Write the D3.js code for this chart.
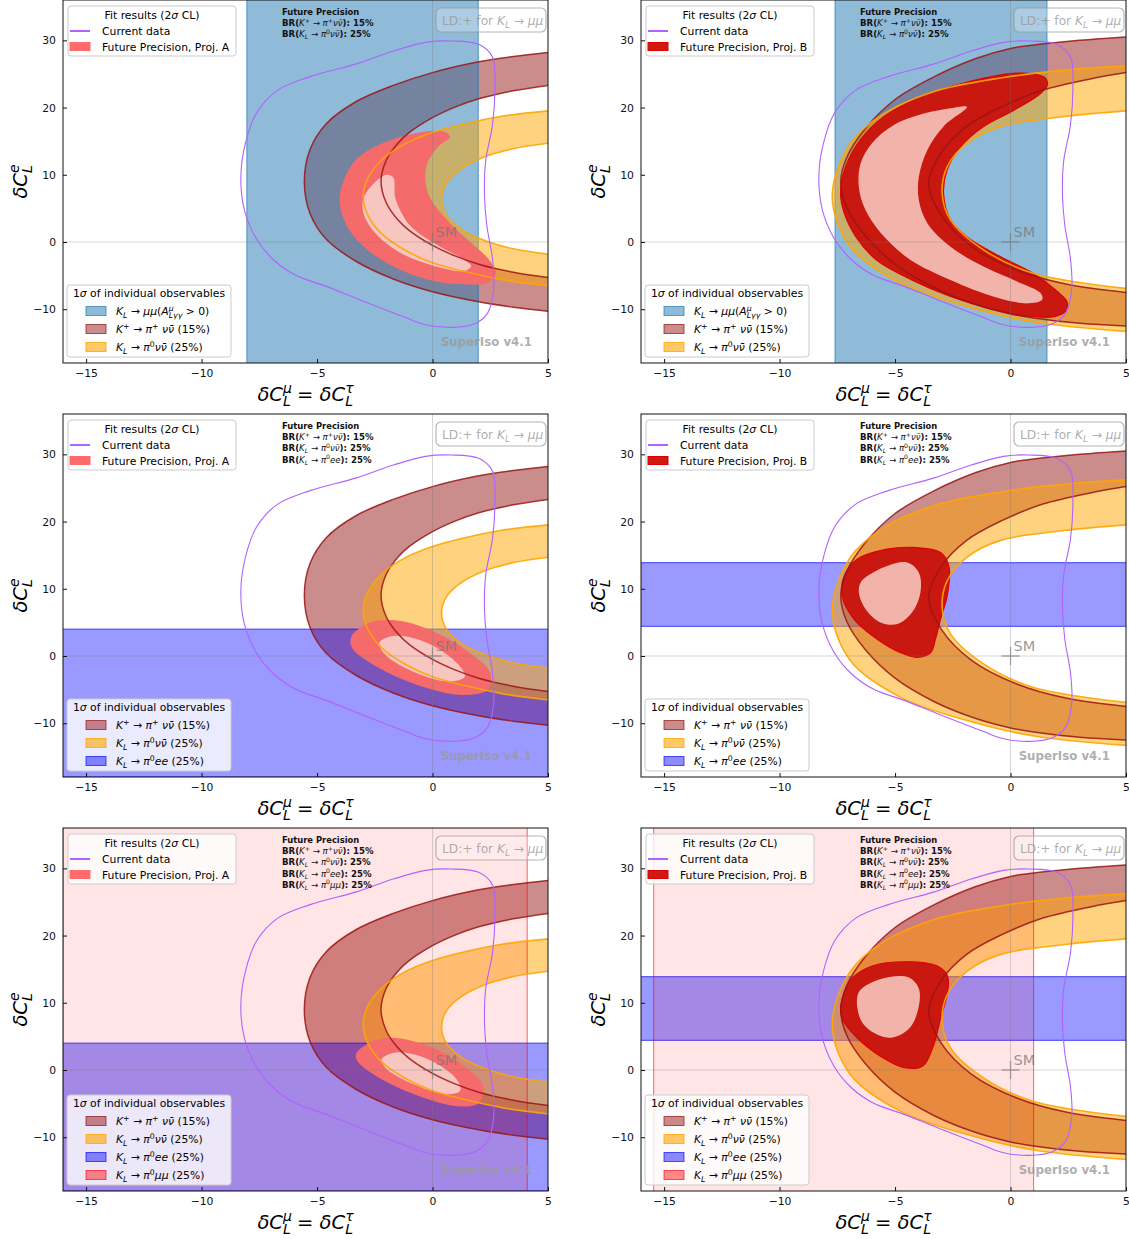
<!DOCTYPE html>
<html>
<head>
<meta charset="utf-8">
<script src="https://cdn.jsdelivr.net/npm/d3@7"></script>
<style>
  body { margin: 0; background: #fff; }
  svg { font-family: "DejaVu Sans", sans-serif; }
</style>
</head>
<body>
<script>
// ---- data (data coordinates: x = dC_L^mu = dC_L^tau, y = dC_L^e) ----

// current data, 2 sigma contour (same in every panel)
const currentData = [[0.8, 29.9], [2.0, 29.4], [2.6, 27.5], [2.7, 23], [2.6, 17.5], [2.3, 12], [2.25, 7],
  [2.35, 2.5], [2.6, -2.6], [2.65, -7], [2.4, -10.5], [1.8, -12.2], [0.8, -12.7], [-0.3, -12.3],
  [-1.2, -11.2], [-3.0, -8.8], [-4.6, -6.6], [-5.9, -5.0], [-6.9, -2.6], [-7.65, 0.6], [-8.15, 4.8],
  [-8.3, 9.7], [-8.1, 14.7], [-7.6, 19.3], [-6.7, 22.6], [-5.3, 24.6], [-3.3, 26.5], [-1.7, 28.4], [-0.3, 29.7]];

// K+ -> pi+ nu nubar band edges (projection A / B)
const kpOuterA = [[5, 28.2], [3.5, 27.6], [2, 26.8], [0, 25.2], [-1.7, 23.3], [-3.3, 20.9], [-4.6, 17.6],
  [-5.3, 13.8], [-5.55, 9.0], [-5.3, 4.2], [-4.6, 0.4], [-3.3, -2.9], [-1.7, -5.5], [0, -7.4], [2, -8.9], [3.5, -9.7], [5, -10.3]];
const kpInnerA = [[5, 23.3], [3.5, 22.5], [2, 21.3], [1, 20.1], [0, 18.5], [-1, 16.3], [-1.5, 14.7], [-2.0, 12.2],
  [-2.23, 9.0], [-2.0, 5.8], [-1.5, 3.3], [-1, 1.7], [0, -0.5], [1, -2.1], [2, -3.3], [3.5, -4.5], [5, -5.3]];
const kpOuterB = [[5, 30.5], [3, 30.0], [1, 29.3], [0, 28.8], [-1.5, 27.3], [-3.3, 24.6], [-5.0, 21.2], [-6.3, 16.8],
  [-7.1, 12.5], [-7.35, 9.0], [-7.1, 5.2], [-6.3, 1.0], [-5.0, -3.3], [-3.3, -6.8], [-1.5, -9.3], [0, -10.7],
  [1, -11.3], [3, -12.1], [5, -12.5]];
const kpInnerB = [[5, 25.2], [3.5, 24.3], [1.4, 22.6], [-0.4, 20.1], [-1.9, 17.2], [-3.0, 13.3], [-3.54, 8.8],
  [-3.0, 4.0], [-1.7, -0.6], [0.3, -4.2], [2.45, -6.3], [5, -7.5]];

// K_L -> pi0 nu nubar band edges
const klOuterA = [[5, 19.5], [3, 18.7], [1.4, 17.6], [0, 16.3], [-1.2, 14.6], [-2.2, 12.2], [-2.8, 9.5], [-3.0, 6.8],
  [-2.8, 4.0], [-2.2, 1.2], [-1.2, -1.2], [0, -3.1], [1.4, -4.4], [3, -5.6], [5, -6.55]];
const klInnerA = [[5, 14.7], [3.5, 13.9], [2.2, 12.6], [1.2, 10.8], [0.6, 8.8], [0.39, 6.4], [0.6, 4.0], [1.2, 2.0],
  [2.2, 0.3], [3.5, -1.0], [5, -1.8]];
const klOuterB = [[5, 26.2], [2.45, 25.6], [-0.43, 24.4], [-3.3, 22.4], [-5.48, 19.1], [-6.93, 14.7], [-7.72, 6.75],
  [-6.93, -0.7], [-4.76, -6.15], [-1.88, -9.6], [1.01, -11.9], [5, -13.3]];
const klInnerB = [[5, 19.5], [2.45, 18.7], [-0.43, 17.2], [-1.88, 14.7], [-2.74, 11.2], [-2.96, 7.2], [-2.6, 3.3],
  [-1.15, -1.2], [1.01, -4.7], [5, -6.9]];

// 1 sigma bands of the other observables: [low, high]
const klMuMuA = [-8.04, 1.98];     // vertical, K_L -> mu mu
const klMuMuB = [-7.6, 1.58];
const klEeA = [-18, 4.0];          // horizontal, K_L -> pi0 e e
const klEeB = [4.4, 13.9];
const klPiMuMuA = [-16, 4.1];      // vertical, K_L -> pi0 mu mu
const klPiMuMuB = [-15.45, 1.0];

// future precision fit regions (2 sigma, 1 sigma)
const projA2s = [[0.6, 16.3], [0.75, 15.6], [0.28, 14.3], [-0.26, 11.3], [-0.2, 7.3], [0.6, 3.4], [1.67, -0.1],
  [2.44, -2.6], [2.75, -4.6], [2.44, -6.0], [1.36, -6.3], [-0.2, -5.6], [-2.0, -3.1], [-3.3, 0.4], [-3.9, 3.9],
  [-4.0, 7.3], [-3.3, 12.3], [-1.7, 15.3], [0.0, 16.5]];
const projA1s = [[-2.0, 10.0], [-1.7, 9.6], [-1.6, 6.4], [-0.96, 2.4], [0.28, -0.6], [1.36, -2.6], [1.67, -3.6],
  [1.36, -4.3], [0.12, -3.6], [-1.4, -1.6], [-2.5, 1.4], [-3.0, 4.4], [-3.0, 6.4], [-2.66, 8.3]];
const projB2s = [[1.5, 24.4], [1.0, 25.0], [0.1, 25.1], [-1.15, 24.4], [-2.6, 23.1], [-4.0, 21.4], [-5.5, 18.6],
  [-6.5, 15.2], [-7.14, 11.2], [-7.36, 7.2], [-7.2, 4.3], [-6.7, 0.8], [-5.8, -2.7], [-4.3, -5.6], [-2.6, -8.1],
  [-0.9, -9.9], [0.7, -11.0], [1.9, -11.1], [2.4, -10.2], [2.45, -8.9], [2.0, -7.3], [1.0, -4.7], [-0.43, -2.2],
  [-1.9, 0.8], [-2.6, 3.3], [-2.9, 7.2], [-2.75, 10.7], [-2.15, 14.2], [-1.15, 17.2], [0.15, 19.6], [1.3, 22.1], [1.6, 23.4]];
const projB1s = [[-1.88, 20.1], [-2.9, 17.2], [-3.6, 13.7], [-3.97, 9.7], [-3.97, 6.25], [-3.6, 2.8], [-2.6, -0.7],
  [-1.15, -3.7], [0.3, -5.9], [1.3, -7.6], [1.37, -8.6], [0.72, -9.13], [-0.72, -8.13], [-2.6, -5.65], [-4.33, -2.68],
  [-5.48, 0.8], [-6.28, 4.76], [-6.57, 8.23], [-6.49, 11.7], [-6.0, 14.7], [-5.05, 17.4], [-3.75, 19.1], [-2.6, 19.9]];
const projAee2s = [[-3.5, 3.0], [-2.7, 5.0], [-1.6, 5.3], [-0.2, 4.0], [1.4, 1.0], [2.5, -2.5], [2.4, -5.0], [1.3, -5.8],
  [-0.9, -4.0], [-2.7, -1.0], [-3.5, 1.3]];
const projAee1s = [[-2.3, 2.0], [-1.6, 3.0], [-0.2, 1.9], [1.1, -1.2], [1.4, -3.1], [0.7, -3.8], [-1.0, -2.1], [-2.1, 0.4]];
const projAall2s = [[-3.28, 2.6], [-2.5, 4.4], [-1.73, 4.8], [-0.2, 3.6], [1.36, 0.6], [2.2, -2.4], [2.0, -4.9],
  [1.05, -5.4], [-0.96, -3.4], [-2.66, -0.4], [-3.28, 1.5]];
const projAall1s = [[-2.2, 1.6], [-1.58, 2.6], [-0.19, 1.6], [1.05, -1.4], [1.2, -3.1], [0.59, -3.6], [-0.96, -1.9], [-2.04, 0.35]];
const projBee2s = [[-6.64, 14.4], [-5.34, 15.9], [-4.19, 16.15], [-3.03, 15.4], [-2.67, 13.4], [-2.74, 8.96], [-3.03, 5.5],
  [-3.25, 2.5], [-3.46, 0.5], [-4.04, -0.2], [-4.76, 0.5], [-5.77, 2.5], [-6.78, 5.5], [-7.29, 8.96], [-7.2, 11.9]];
const projBee1s = [[-6.2, 11.9], [-5.34, 13.4], [-4.47, 13.9], [-3.97, 12.4], [-3.9, 9.5], [-4.26, 6.5], [-4.9, 4.75],
  [-5.63, 5.0], [-6.28, 7.0], [-6.57, 9.5], [-6.49, 10.95]];
const projBall2s = [[-7.35, 9.5], [-6.89, 13.5], [-5.96, 15.5], [-4.42, 16.1], [-3.19, 15.5], [-2.73, 14.0], [-2.73, 11.5],
  [-3.04, 7.55], [-3.34, 3.6], [-3.8, 0.6], [-4.58, 0.35], [-5.65, 2.1], [-6.73, 5.1], [-7.27, 7.55]];
const projBall1s = [[-6.58, 11.5], [-5.65, 13.5], [-4.42, 13.8], [-3.96, 12.0], [-4.04, 8.5], [-4.42, 6.06], [-5.19, 4.8],
  [-5.96, 5.6], [-6.5, 7.55]];

const xTicks = [-15, -10, -5, 0, 5];
const yTicks = [-10, 0, 10, 20, 30];
const precisionLines = ["kp", "klnn", "klee", "klmm"];   // order of the "Future Precision" notes

// ---- layout ----
const W = 1129, H = 1239;
const colX = [63, 641], rowY = [0, 414, 828];
const pw = 485, ph = 363;

const svg = d3.select("body").append("svg").attr("width", W).attr("height", H);
svg.append("rect").attr("width", W).attr("height", H).attr("fill", "#fff");

const x = d3.scaleLinear().domain([-16, 5]).range([0, pw]);
const y = d3.scaleLinear().domain([-18, 36]).range([ph, 0]);
const lineOpen = d3.line().x(d => x(d[0])).y(d => y(d[1])).curve(d3.curveCatmullRom.alpha(0.5));
const lineClosed = d3.line().x(d => x(d[0])).y(d => y(d[1])).curve(d3.curveCatmullRomClosed.alpha(0.5));

const C = {
  kp: "#8b0000", kl: "#ffa500", mumu: "#1f77b4", ee: "#0000ff", pimumu: "#ff0000",
  purple: "#b062ff",
  A2: "#f56a6a", A1: "#f7c6c1", B2: "#c9180f", B1: "#f2b4aa", Bedge: "#e00000"
};

// rich text: parts = [text, {it, sub, sup, stack, nb}]
function rich(sel, parts, size) {
  let cur = 0, prev = null;
  parts.forEach(([t, o = {}]) => {
    const small = o.sub || o.sup;
    const target = o.sub ? size * 0.24 : o.sup ? -size * 0.4 : 0;
    const ts = sel.append("tspan").text(t).attr("dy", target - cur).attr("font-size", small ? size * 0.72 : size);
    if (o.it) ts.attr("font-style", "italic");
    if (o.nb) ts.attr("font-weight", "normal");
    if (o.stack && prev) ts.attr("dx", -prev.node().getComputedTextLength());
    cur = target;
    prev = ts;
  });
}

const lbl = {
  mumu: [["K", {it: 1}], ["L", {sub: 1, it: 1}], [" → "], ["μμ", {it: 1}], ["("], ["A", {it: 1}], ["μ", {sup: 1, it: 1}],
    ["Lγγ", {sub: 1, it: 1, stack: 1}], [" > 0)"]],
  kp: [["K", {it: 1}], ["+", {sup: 1}], [" → "], ["π", {it: 1}], ["+", {sup: 1}], [" "], ["νν\u0304", {it: 1}], [" (15%)"]],
  kl: [["K", {it: 1}], ["L", {sub: 1, it: 1}], [" → "], ["π", {it: 1}], ["0", {sup: 1}], ["νν\u0304", {it: 1}], [" (25%)"]],
  ee: [["K", {it: 1}], ["L", {sub: 1, it: 1}], [" → "], ["π", {it: 1}], ["0", {sup: 1}], ["ee", {it: 1}], [" (25%)"]],
  pimumu: [["K", {it: 1}], ["L", {sub: 1, it: 1}], [" → "], ["π", {it: 1}], ["0", {sup: 1}], ["μμ", {it: 1}], [" (25%)"]]
};
const notes = {
  kp: [["BR("], ["K", {it: 1, nb: 1}], ["+", {sup: 1, nb: 1}], [" → ", {nb: 1}], ["π", {it: 1, nb: 1}], ["+", {sup: 1, nb: 1}],
    ["νν\u0304", {it: 1, nb: 1}], ["): 15%"]],
  klnn: [["BR("], ["K", {it: 1, nb: 1}], ["L", {sub: 1, it: 1, nb: 1}], [" → ", {nb: 1}], ["π", {it: 1, nb: 1}], ["0", {sup: 1, nb: 1}],
    ["νν\u0304", {it: 1, nb: 1}], ["): 25%"]],
  klee: [["BR("], ["K", {it: 1, nb: 1}], ["L", {sub: 1, it: 1, nb: 1}], [" → ", {nb: 1}], ["π", {it: 1, nb: 1}], ["0", {sup: 1, nb: 1}],
    ["ee", {it: 1, nb: 1}], ["): 25%"]],
  klmm: [["BR("], ["K", {it: 1, nb: 1}], ["L", {sub: 1, it: 1, nb: 1}], [" → ", {nb: 1}], ["π", {it: 1, nb: 1}], ["0", {sup: 1, nb: 1}],
    ["μμ", {it: 1, nb: 1}], ["): 25%"]]
};

function bandPath(outer, inner) {
  return lineOpen(outer) + lineOpen(inner.slice().reverse()).replace(/^M/, "L") + "Z";
}

const panels = [
  {c: 0, r: 0, proj: "A", kpO: kpOuterA, kpI: kpInnerA, klO: klOuterA, klI: klInnerA, mumu: klMuMuA,
    reg: [projA2s, projA1s], leg: ["mumu", "kp", "kl"], nNotes: 2},
  {c: 1, r: 0, proj: "B", kpO: kpOuterB, kpI: kpInnerB, klO: klOuterB, klI: klInnerB, mumu: klMuMuB,
    reg: [projB2s, projB1s], leg: ["mumu", "kp", "kl"], nNotes: 2},
  {c: 0, r: 1, proj: "A", kpO: kpOuterA, kpI: kpInnerA, klO: klOuterA, klI: klInnerA, ee: klEeA,
    reg: [projAee2s, projAee1s], leg: ["kp", "kl", "ee"], nNotes: 3},
  {c: 1, r: 1, proj: "B", kpO: kpOuterB, kpI: kpInnerB, klO: klOuterB, klI: klInnerB, ee: klEeB,
    reg: [projBee2s, projBee1s], leg: ["kp", "kl", "ee"], nNotes: 3},
  {c: 0, r: 2, proj: "A", kpO: kpOuterA, kpI: kpInnerA, klO: klOuterA, klI: klInnerA, ee: klEeA, pimumu: klPiMuMuA,
    reg: [projAall2s, projAall1s], leg: ["kp", "kl", "ee", "pimumu"], nNotes: 4},
  {c: 1, r: 2, proj: "B", kpO: kpOuterB, kpI: kpInnerB, klO: klOuterB, klI: klInnerB, ee: klEeB, pimumu: klPiMuMuB,
    reg: [projBall2s, projBall1s], leg: ["kp", "kl", "ee", "pimumu"], nNotes: 4}
];

const legendStyle = {
  mumu: {fill: C.mumu, op: 0.5}, kp: {fill: C.kp, op: 0.45}, kl: {fill: C.kl, op: 0.6},
  ee: {fill: C.ee, op: 0.45}, pimumu: {fill: C.pimumu, op: 0.45}
};

panels.forEach((p, i) => {
  const g = svg.append("g").attr("transform", `translate(${colX[p.c]},${rowY[p.r]})`);
  const clipId = "clip" + i;
  g.append("clipPath").attr("id", clipId).append("rect").attr("width", pw).attr("height", ph);
  const plot = g.append("g").attr("clip-path", `url(#${clipId})`);

  // K+ band
  plot.append("path").attr("d", bandPath(p.kpO, p.kpI)).attr("fill", C.kp).attr("fill-opacity", 0.45);
  // K_L -> mu mu band
  if (p.mumu) {
    plot.append("rect").attr("x", x(p.mumu[0])).attr("width", x(p.mumu[1]) - x(p.mumu[0]))
      .attr("y", 0).attr("height", ph).attr("fill", C.mumu).attr("fill-opacity", 0.5);
    p.mumu.forEach(v => plot.append("line").attr("x1", x(v)).attr("x2", x(v)).attr("y1", 0).attr("y2", ph)
      .attr("stroke", C.mumu).attr("stroke-opacity", 0.7).attr("stroke-width", 1));
  }
  // K_L -> pi0 e e band
  if (p.ee) {
    plot.append("rect").attr("x", 0).attr("width", pw).attr("y", y(p.ee[1])).attr("height", y(p.ee[0]) - y(p.ee[1]))
      .attr("fill", C.ee).attr("fill-opacity", 0.4);
    p.ee.forEach(v => plot.append("line").attr("x1", 0).attr("x2", pw).attr("y1", y(v)).attr("y2", y(v))
      .attr("stroke", C.ee).attr("stroke-opacity", 0.55).attr("stroke-width", 1.2));
  }
  // K_L -> pi0 nu nubar band
  plot.append("path").attr("d", bandPath(p.klO, p.klI)).attr("fill", C.kl).attr("fill-opacity", 0.5);
  // K_L -> pi0 mu mu band
  if (p.pimumu) {
    plot.append("rect").attr("x", x(p.pimumu[0])).attr("width", x(p.pimumu[1]) - x(p.pimumu[0]))
      .attr("y", 0).attr("height", ph).attr("fill", C.pimumu).attr("fill-opacity", 0.1);
    p.pimumu.forEach(v => plot.append("line").attr("x1", x(v)).attr("x2", x(v)).attr("y1", 0).attr("y2", ph)
      .attr("stroke", C.pimumu).attr("stroke-opacity", 0.6).attr("stroke-width", 1));
  }
  // future fit regions
  const isB = p.proj === "B";
  plot.append("path").attr("d", lineClosed(p.reg[0])).attr("fill", isB ? C.B2 : C.A2)
    .attr("stroke", isB ? C.Bedge : "none").attr("stroke-width", 1.2);
  plot.append("path").attr("d", lineClosed(p.reg[1])).attr("fill", isB ? C.B1 : C.A1);

  // band edges
  [p.kpO, p.kpI].forEach(d => plot.append("path").attr("d", lineOpen(d)).attr("fill", "none")
    .attr("stroke", "#9a1414").attr("stroke-opacity", 0.85).attr("stroke-width", 1.5));
  [p.klO, p.klI].forEach(d => plot.append("path").attr("d", lineOpen(d)).attr("fill", "none")
    .attr("stroke", C.kl).attr("stroke-opacity", 0.9).attr("stroke-width", 1.6));

  // zero lines
  plot.append("line").attr("x1", x(0)).attr("x2", x(0)).attr("y1", 0).attr("y2", ph)
    .attr("stroke", "#777").attr("stroke-opacity", 0.3).attr("stroke-width", 1);
  plot.append("line").attr("x1", 0).attr("x2", pw).attr("y1", y(0)).attr("y2", y(0))
    .attr("stroke", "#777").attr("stroke-opacity", 0.3).attr("stroke-width", 1);

  // current data contour
  plot.append("path").attr("d", lineClosed(currentData)).attr("fill", "none")
    .attr("stroke", C.purple).attr("stroke-width", 1.1);

  // SM point
  const sx = x(0), sy = y(0);
  g.append("path").attr("d", `M${sx - 9},${sy}H${sx + 9}M${sx},${sy - 9}V${sy + 9}`)
    .attr("stroke", "#777").attr("stroke-opacity", 0.6).attr("stroke-width", 1.3);
  g.append("text").attr("x", sx + 3).attr("y", sy - 5).attr("font-size", 14.5)
    .attr("fill", "#777").attr("fill-opacity", 0.75).text("SM");

  // future precision notes
  const nt = g.append("g").attr("font-weight", "bold").attr("font-size", 8.4).attr("fill", "#111");
  nt.append("text").attr("x", 219).attr("y", 15).text("Future Precision");
  precisionLines.slice(0, p.nNotes).forEach((k, j) => {
    rich(nt.append("text").attr("x", 219).attr("y", 26 + j * 11.3), notes[k], 8.6);
  });

  // LD box
  g.append("rect").attr("x", 373).attr("y", 8).attr("width", 110).attr("height", 24).attr("rx", 5)
    .attr("fill", "#fff").attr("fill-opacity", 0.25).attr("stroke", "#999").attr("stroke-opacity", 0.7).attr("stroke-width", 1.2);
  rich(g.append("text").attr("x", 379).attr("y", 25).attr("fill", "#999").attr("fill-opacity", 0.8),
    [["LD:+ for "], ["K", {it: 1}], ["L", {sub: 1, it: 1}], [" → "], ["μμ", {it: 1}]], 12.2);

  // SuperIso
  g.append("text").attr("x", 469).attr("y", ph - 17).attr("text-anchor", "end").attr("font-weight", "bold")
    .attr("font-size", 11.8).attr("fill", "#999").attr("fill-opacity", 0.8).text("SuperIso v4.1");

  // legend 1
  const l1 = g.append("g");
  l1.append("rect").attr("x", 5).attr("y", 6).attr("width", 168).attr("height", 50).attr("rx", 3)
    .attr("fill", "#fff").attr("fill-opacity", 0.8).attr("stroke", "#ccc").attr("stroke-width", 1);
  rich(l1.append("text").attr("x", 89).attr("y", 19).attr("text-anchor", "middle"),
    [["Fit results (2"], ["σ", {it: 1}], [" CL)"]], 10.8);
  l1.append("line").attr("x1", 7).attr("x2", 27).attr("y1", 31).attr("y2", 31).attr("stroke", C.purple).attr("stroke-width", 2);
  l1.append("text").attr("x", 39).attr("y", 35).attr("font-size", 10.8).text("Current data");
  l1.append("rect").attr("x", 7).attr("y", 42.5).attr("width", 20).attr("height", 8)
    .attr("fill", isB ? "#d01a14" : "#ff6b6b").attr("stroke", isB ? C.Bedge : "#ff6b6b");
  l1.append("text").attr("x", 39).attr("y", 51).attr("font-size", 10.8).text("Future Precision, Proj. " + p.proj);

  // legend 2
  const n = p.leg.length, bottom = ph - 6, top = bottom - (n + 1) * 18;
  const l2 = g.append("g");
  l2.append("rect").attr("x", 4).attr("y", top).attr("width", 164).attr("height", bottom - top).attr("rx", 3)
    .attr("fill", "#fff").attr("fill-opacity", 0.8).attr("stroke", "#ccc").attr("stroke-width", 1);
  rich(l2.append("text").attr("x", 86).attr("y", top + 12).attr("text-anchor", "middle"),
    [["1"], ["σ", {it: 1}], [" of individual observables"]], 10.8);
  p.leg.forEach((k, j) => {
    const cy = top + 8 + 18 * (j + 1);
    const st = legendStyle[k];
    l2.append("rect").attr("x", 23).attr("y", cy - 4.5).attr("width", 20).attr("height", 9)
      .attr("fill", st.fill).attr("fill-opacity", st.op).attr("stroke", st.fill).attr("stroke-opacity", Math.min(1, st.op + 0.2));
    rich(l2.append("text").attr("x", 53).attr("y", cy + 4), lbl[k], 10.8);
  });

  // axes
  const ax = g.append("g").attr("transform", `translate(0,${ph})`)
    .call(d3.axisBottom(x).tickValues(xTicks).tickSizeInner(-4).tickSizeOuter(0).tickPadding(6));
  const ay = g.append("g")
    .call(d3.axisLeft(y).tickValues(yTicks).tickSizeInner(-4).tickSizeOuter(0).tickPadding(7));
  [ax, ay].forEach(a => {
    a.select(".domain").remove();
    a.selectAll("text").attr("font-size", 10.8).attr("font-family", "DejaVu Sans").attr("fill", "#111");
    a.selectAll("line").attr("stroke", "#111");
  });
  g.append("rect").attr("width", pw).attr("height", ph).attr("fill", "none").attr("stroke", "#111").attr("stroke-width", 1);

  // axis labels
  rich(g.append("text").attr("x", pw / 2).attr("y", ph + 38).attr("text-anchor", "middle"),
    [["δ", {it: 1}], ["C", {it: 1}], ["μ", {sup: 1, it: 1}], ["L", {sub: 1, it: 1, stack: 1}], [" = "], ["δ", {it: 1}],
      ["C", {it: 1}], ["τ", {sup: 1, it: 1}], ["L", {sub: 1, it: 1, stack: 1}]], 19.5);
  rich(g.append("text").attr("transform", `translate(-36,${ph / 2}) rotate(-90)`).attr("text-anchor", "middle"),
    [["δ", {it: 1}], ["C", {it: 1}], ["e", {sup: 1, it: 1}], ["L", {sub: 1, it: 1, stack: 1}]], 19.5);
});
</script>
</body>
</html>
